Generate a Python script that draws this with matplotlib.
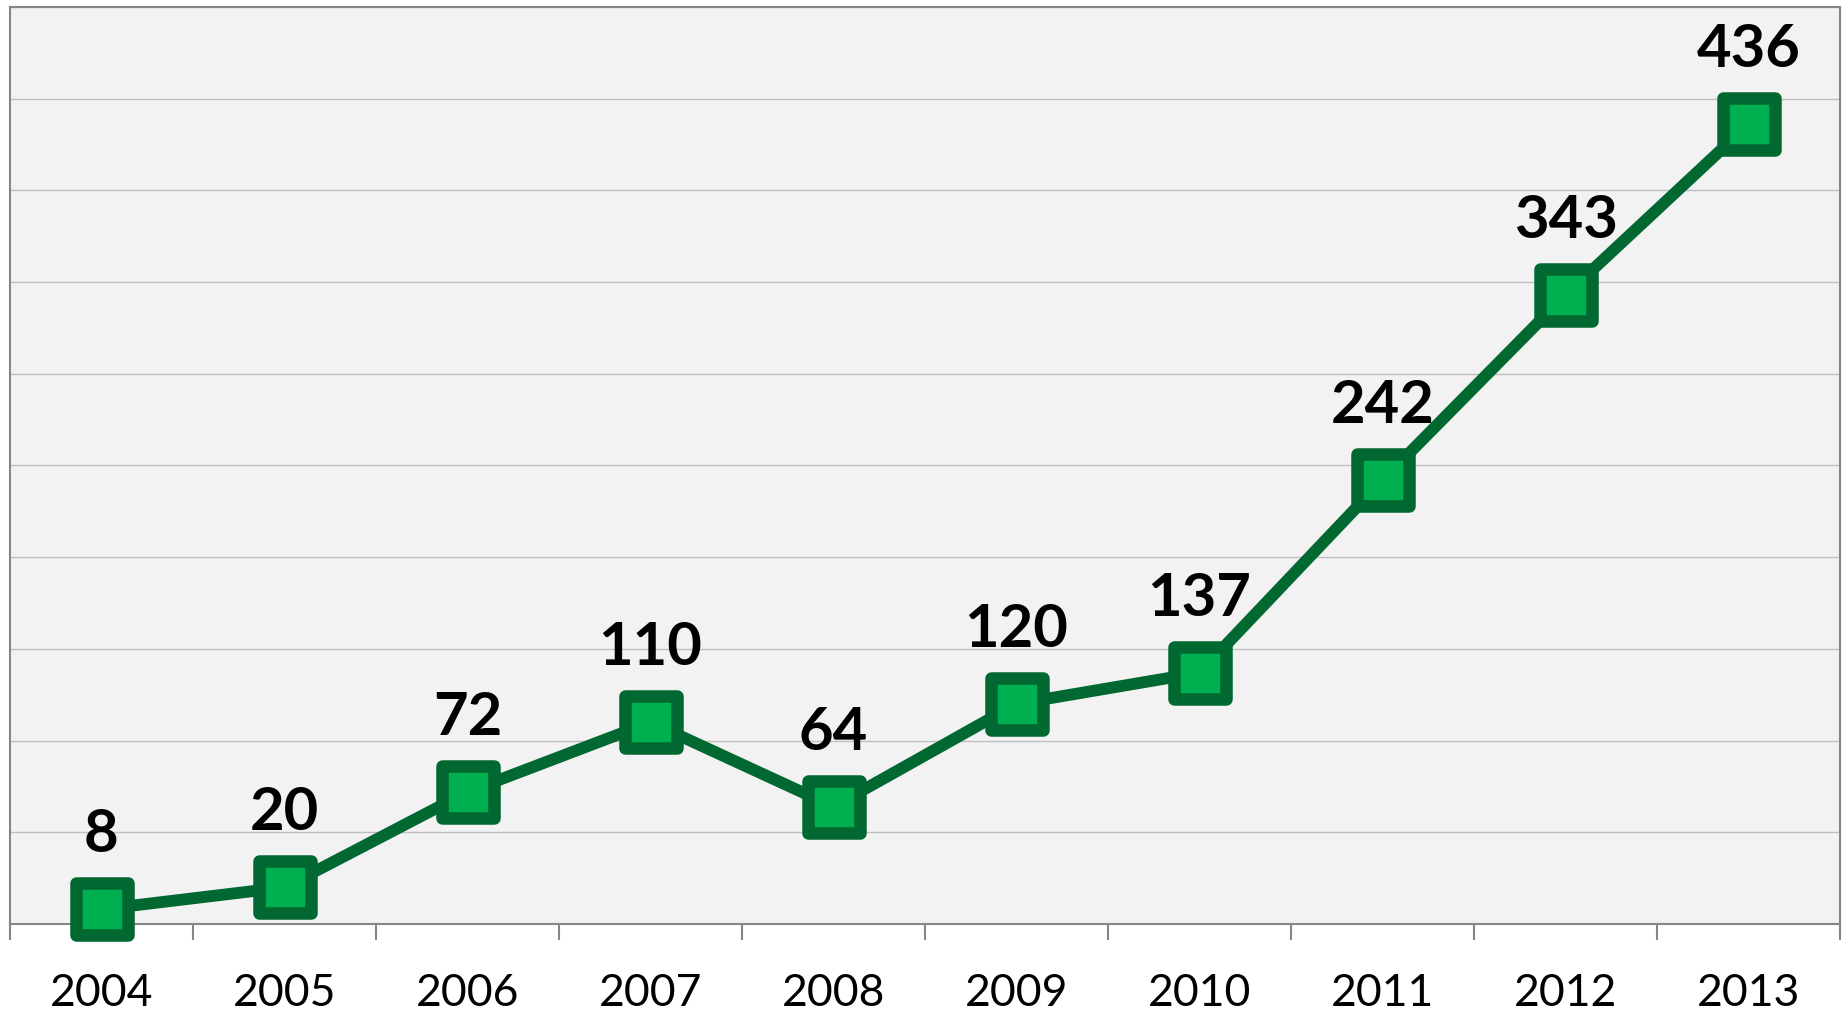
import matplotlib
matplotlib.use('Agg')
import matplotlib.pyplot as plt
from matplotlib.markers import MarkerStyle
import numpy as np

years = ['2004', '2005', '2006', '2007', '2008', '2009', '2010', '2011', '2012', '2013']
counts = [8, 20, 72, 110, 64, 120, 137, 242, 343, 436]

dark_green = '#006830'
fill_green = '#00B050'
grey = '#868686'

plt.rcParams['font.family'] = ['Lato', 'DejaVu Sans']

fig = plt.figure(figsize=(18.49, 10.13), dpi=100)
ax = fig.add_axes([10 / 1849, 89 / 1013, 1830 / 1849, 917 / 1013])
ax.set_facecolor('#F2F2F2')

x = np.arange(len(years))
ax.plot(x, counts, color=dark_green, lw=8.5, solid_capstyle='round', zorder=3,
        marker=MarkerStyle('s', joinstyle='round'), markersize=37,
        markerfacecolor=fill_green, markeredgecolor=dark_green, markeredgewidth=9,
        clip_on=False)

for xi, v in zip(x, counts):
    ax.annotate(str(v), (xi, v), xytext=(0, 41), textcoords='offset points',
                ha='center', va='baseline', fontsize=43, fontweight='bold',
                color='black', zorder=4)

ax.set_xlim(-0.5, len(years) - 0.5)
ax.set_ylim(0, 500)
ax.set_yticks(np.arange(0, 501, 50))
ax.yaxis.grid(True, color='#BFBFBF', lw=1)
ax.set_axisbelow(True)
ax.tick_params(axis='y', left=False, labelleft=False)

ax.set_xticks(np.arange(-0.5, len(years), 1.0))
ax.set_xticklabels([])
ax.tick_params(axis='x', which='major', length=11.5, width=1.5, color=grey)
ax.set_xticks(x, minor=True)
ax.set_xticklabels(years, minor=True)
ax.tick_params(axis='x', which='minor', length=0, pad=35, labelsize=32)

for s in ax.spines.values():
    s.set_color(grey)
    s.set_linewidth(1.5)

fig.savefig('out.png', dpi=100)
